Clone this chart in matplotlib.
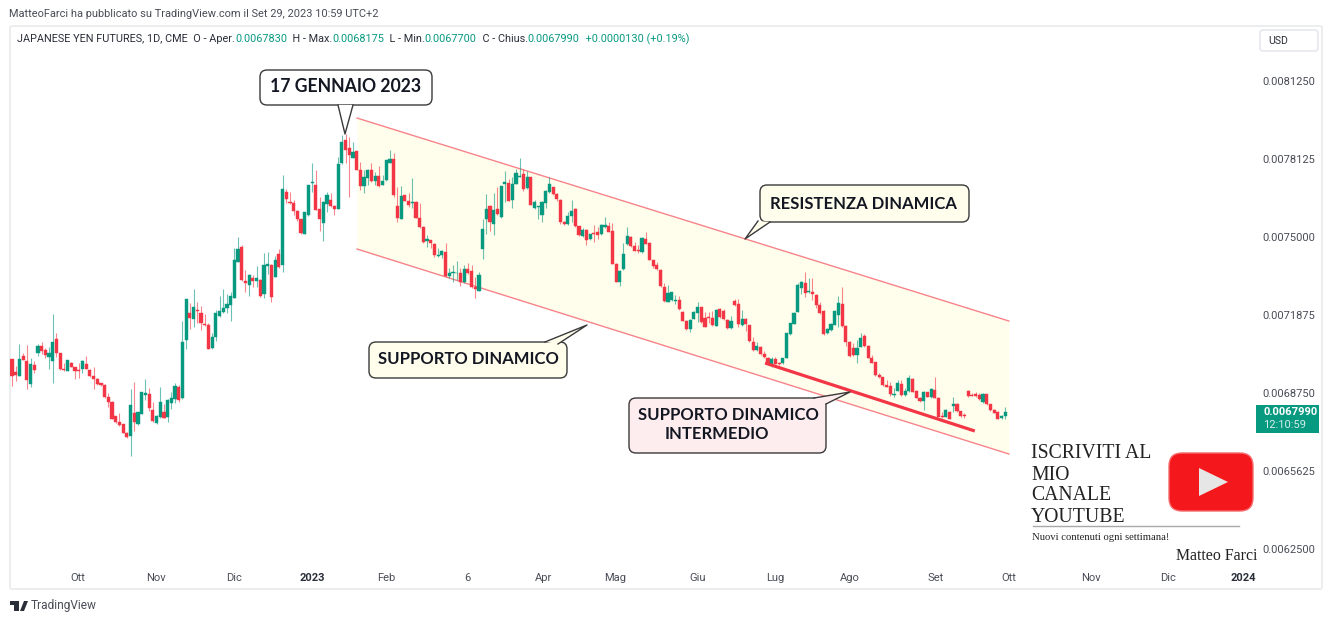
import numpy as np
import matplotlib
matplotlib.use("Agg")
import matplotlib.pyplot as plt
from matplotlib.patches import FancyBboxPatch, Polygon, Rectangle

# prices are in units of 0.0000001
PRICE_UNIT = 1e-7

opens = [
    70110,69605,69415,70230,70045,69125,69870,70350,70630,70485,
    70190,70045,70900,70340,69725,69645,69965,69780,69670,69710,
    69910,69670,69430,69295,69135,69070,68590,68400,67815,67575,
    67495,67160,67025,67960,67495,67920,68670,68725,68055,67550,
    67790,67990,67790,68360,68525,68975,68550,70875,71955,71715,
    72060,71940,71515,71460,70540,71005,71835,71980,72140,72290,
    72570,74010,74610,73250,73090,73370,73250,73290,72730,73850,
    73875,73410,74320,73875,76790,76400,76375,76040,75705,75120,
    75880,77150,77080,76105,75575,76335,76495,76240,76120,
    77950,78885,78580,78175,78445,77685,77040,77350,77685,77240,77455,
    77095,77280,77975,78135,76240,75735,76670,76440,76375,76400,
    75775,75400,74840,74865,74720,74225,74265,74400,73435,73545,
    73545,73570,73195,73705,73635,72985,72850,74530,75705,76230,
    75535,76135,75800,77110,77150,76480,77135,77415,77525,76950,
    77390,76175,76200,75895,76360,76800,76990,76720,76480,75600,
    75520,75840,76135,75425,75040,75280,74905,75160,75215,75120,
    75385,75425,75225,73930,73210,73705,74720,75000,74640,74480,
    74385,74905,74760,74065,73875,73675,73010,
    72410,72475,
    72450,72475,72010,71635,71300,71725,71940,72180,71770,71795,
    71740,71445,72100,72050,71675,71340,72435,72300,71475,71715,71460,70805,
    70470,70605,70300,70150,69860,70125,69965,69940,70165,71115,
    71525,72010,72945,73170,72795,72810,72690,72275,72050,71140,
    71275,71485,71875,72315,71435,70805,70540,70285,70605,71035,
    70645,70165,69980,69455,69375,69070,69045,68685,68845,69110,
    68670,68815,69325,68830,68565,68415,68775,68575,68870,68565,
    67830,67800,67990,68230,68295,68015,67855,68830,68685,68725,
    68670,68375,68695,68295,68070,68000,67735,67830,
]
highs = [
    70110,69830,70725,70365,70670,70165,70030,70700,70790,70540,
    70605,71900,71165,70365,69940,70070,70005,69805,69940,70070,
    70230,69725,69805,69335,69165,69110,68735,68430,67840,67960,
    67520,67200,68895,69175,68000,68805,69310,68935,68400,67855,
    68990,68310,68495,68805,69165,69070,71635,72515,72370,72930,
    72380,72250,71900,71540,71140,72075,72635,72930,72715,72810,
    74545,74985,74690,73675,73515,73475,73835,73315,74345,74400,
    73905,74240,74505,77480,76910,76790,76480,76080,75735,76015,
    77095,77965,77685,76615,76425,76815,76750,76265,78215,
    79085,79125,78990,78820,78460,78005,77685,77710,77975,77615,77845,
    77485,78085,78485,78350,77015,77040,76695,76775,77350,76430,
    76375,75425,75080,74890,74745,74570,74480,74760,73745,73880,
    74050,73745,73880,73945,73880,73385,73595,75720,76710,76295,
    76775,77015,77055,77645,77335,77415,77725,78150,77710,77630,
    77415,76480,76240,76430,76870,77415,77015,76750,76510,75625,
    76015,76480,76160,75455,75345,75320,75135,75480,75400,75505,
    75815,75615,75545,73955,73665,74745,75385,75025,74810,74680,
    75010,75185,74785,74090,74010,73705,73145,
    73075,72810,
    72675,72635,72035,71660,71700,72050,72395,72210,72010,72010,
    72050,72130,72155,72100,71700,71835,72500,72500,72075,71740,71485,71005,
    70805,70630,70445,70180,70180,70180,69990,70165,71165,71565,
    71980,73145,73225,73610,73345,73345,72715,72410,72075,71340,
    71540,72075,72635,73010,71460,70835,70740,70875,71140,71115,
    70675,70270,70005,69540,69405,69270,69175,68935,69270,69270,
    68935,69470,69350,68855,68590,68845,68805,68935,69405,68590,
    68000,68120,68015,68605,68335,68040,67935,68855,68735,68805,
    68750,68765,68725,68320,68095,68030,67870,68175,
]
lows = [
    69030,69245,69415,70070,68895,69005,69535,70230,70310,70140,
    69725,69150,70205,69670,69645,69620,69780,69325,69335,69535,
    69700,69375,68925,69085,69030,68565,68200,67695,67550,67440,
    67135,66960,66240,67225,67470,67895,68470,68040,67575,67520,
    67760,67735,67600,68095,68360,68400,68525,70500,71315,71405,
    71565,71285,71435,70500,70510,70845,71805,71940,71940,71635,
    72540,73985,73250,72810,72650,72980,73010,72595,72570,73505,
    72395,73385,73770,73585,76345,76320,75865,75655,75130,75105,
    75855,76815,76065,75250,74850,76015,76185,75895,76105,
    77925,77950,76590,78150,77670,76880,76775,77080,77200,77070,77015,
    77070,77255,77950,76590,75615,75705,76430,76190,76160,75745,
    75345,74760,74600,74570,74185,74210,74160,73410,73345,73185,
    73275,73050,73170,73530,72955,72570,72835,74120,75120,75240,
    75095,75895,75775,76415,76430,76175,77110,77390,76855,76920,
    76270,76105,75705,75615,76160,76775,76695,76455,75520,75480,
    75495,75615,75415,75025,75010,74665,74880,74785,74920,75095,
    75360,75185,73905,73185,73050,73675,74690,74610,74425,74345,
    74360,74705,74065,73745,73675,73010,72395,
    72380,72450,
    72315,72075,71620,71285,71180,71700,71605,71565,71380,71540,
    71445,71420,71740,71675,71315,71315,72250,71405,71445,71245,70805,70430,
    70445,70270,70150,69910,69780,69900,69885,69910,70140,71085,
    71500,71980,72715,72580,72770,72475,72140,71915,71085,71115,
    71245,71460,71380,71405,70645,70205,70245,69965,70580,70605,
    70140,69940,69430,69350,69045,68975,68630,68575,68815,68645,
    68645,68790,68775,68535,68390,68070,68575,68535,68535,67775,
    67760,67775,67695,68000,68000,67800,67750,68605,68615,68605,
    68470,68350,68270,68040,67935,67695,67710,67700,
]
closes = [
    69415,69470,70110,70070,69270,69900,69670,70630,70445,70260,
    70340,70805,70340,69725,69685,70070,69805,69620,69630,70045,
    69725,69430,69295,69110,69070,68590,68400,67720,67575,67470,
    67160,66985,68285,67590,67990,68775,68765,68150,67630,67830,
    68400,67760,68470,68550,69030,68470,70805,72515,71765,72195,
    72035,71555,71460,70525,71005,71955,72020,72155,72315,72635,
    74075,74520,73290,73170,73490,73250,73345,72620,73875,73905,
    72595,74075,73810,76920,76510,76375,76055,75705,75160,75985,
    77080,77200,76095,75735,76400,76670,76240,76135,77935,
    78790,78485,78270,78405,77695,77030,77390,77685,77230,77430,77040,
    77240,78070,78135,76670,75775,76640,76455,76295,76400,75775,
    75400,74785,74920,74760,74265,74280,74425,73435,73545,73595,
    73570,73185,73705,73555,72985,72905,73465,75305,76105,75600,
    76080,75920,77030,77200,76455,77120,77550,77455,76935,77390,
    76295,76390,76240,76400,76840,77135,76720,76510,75600,75505,
    75840,76025,75440,75080,75280,74890,75105,75120,75095,75480,
    75480,75215,73930,73210,73635,74320,75040,74640,74450,74440,
    74970,74730,74090,73850,73705,73035,72420,
    72745,72795,
    72475,72100,71645,71315,71675,71995,72180,71595,71405,71740,
    71475,72075,71780,71700,71340,71645,72275,71515,71715,71515,70835,70460,
    70630,70300,70180,69940,70125,69925,69910,70140,71140,71540,
    71955,73075,73195,72740,72835,72715,72275,71940,71115,71315,
    71515,72050,72340,71435,70805,70230,70270,70540,70965,70635,
    70165,69965,69455,69375,69070,69005,68695,68710,69135,68670,
    68845,69335,68805,68565,68445,68775,68605,68910,68565,67800,
    67790,68070,67710,68310,68030,67840,67830,68645,68645,68630,
    68495,68710,68295,68070,67960,67720,67815,67990,
]

price_ticks = [0.0081250, 0.0078125, 0.0075000, 0.0071875, 0.0068750, 0.0065625, 0.0062500]

# bar index of each month label
time_pos = [17.8, 38.9, 59.9, 81.0, 100.9, 122.8, 143.3, 162.7, 185.1, 205.9, 226.2, 249.1, 269.0, 291.2, 312.0, 332.3]
time_labels = ["Ott", "Nov", "Dic", "2023", "Feb", "6", "Apr", "Mag", "Giu", "Lug", "Ago", "Set", "Ott", "Nov", "Dic", "2024"]
bold_labels = ["2023", "2024"]

# channel drawing (bar index, price)
channel_x = [93.1, 269.0]
channel_upper = [0.0079766, 0.0071634]
channel_lower = [0.0074518, 0.0066306]
inner_x = [203.2, 259.8]
inner_y = [0.0069951, 0.0067227]

GREEN = "#089981"
RED = "#f23645"
W, H = 1332, 622

plt.rcParams["font.family"] = ["Roboto", "DejaVu Sans"]
fig = plt.figure(figsize=(W / 100, H / 100), dpi=100, facecolor="white")

# overlay in pixel space, for frame and labels
bg = fig.add_axes([0, 0, 1, 1], zorder=0)
bg.set_xlim(0, W)
bg.set_ylim(H, 0)
bg.axis("off")
bg.add_patch(FancyBboxPatch((10, 26), 1312, 563, boxstyle="round,pad=0,rounding_size=2",
                            fc="white", ec="#e9eaec", lw=1.2))

# main price pane: px 10-1256 across, 26-566 down
ax = fig.add_axes([10 / W, 1 - 566 / H, 1246 / W, 540 / H], zorder=1)
ax.patch.set_alpha(0)
STEP = 3.706
ax.set_xlim((10 - 12) / STEP, (1256 - 12) / STEP)
ax.set_ylim(0.00625 - 17 / 249600, 0.00625 + 523 / 249600)
for s in ax.spines.values():
    s.set_visible(False)

o = np.array(opens) * PRICE_UNIT
h = np.array(highs) * PRICE_UNIT
l = np.array(lows) * PRICE_UNIT
c = np.array(closes) * PRICE_UNIT
idx = np.arange(len(o))
colors = [GREEN if cc >= oo else RED for oo, cc in zip(o, c)]

# channel
ax.fill_between(channel_x, channel_lower, channel_upper, color="#fffdec", lw=0, zorder=1)
ax.plot(channel_x, channel_upper, color="#f7848a", lw=1.0, zorder=2)
ax.plot(channel_x, channel_lower, color="#f7848a", lw=1.0, zorder=2)

# candles
ax.vlines(idx, l, h, colors=colors, lw=0.8, alpha=0.6, zorder=3)
ax.bar(idx, np.abs(c - o), bottom=np.minimum(o, c), width=0.85, color=colors,
       edgecolor=colors, lw=0.3, zorder=4)

ax.plot(inner_x, inner_y, color="#f23645", lw=2.3, solid_capstyle="butt", zorder=5)

ax.yaxis.tick_right()
ax.set_yticks(price_ticks)
ax.set_yticklabels([f"{p:.7f}" for p in price_ticks], color="#4a4d57", fontsize=8.0)
ax.set_xticks(time_pos)
ax.set_xticklabels(time_labels, fontsize=8.0, color="#4a4d57")
for t in ax.get_xticklabels():
    if t.get_text() in bold_labels:
        t.set_fontweight("bold")
        t.set_color("#2a2e39")
ax.tick_params(axis="both", length=0)
ax.tick_params(axis="y", pad=4.5)
ax.tick_params(axis="x", pad=5)

# overlay on top
top = fig.add_axes([0, 0, 1, 1], zorder=2)
top.set_xlim(0, W)
top.set_ylim(H, 0)
top.axis("off")
top.patch.set_alpha(0)


def callout(x0, y0, x1, y1, tail, fc, lines, fs=12.0):
    top.add_patch(FancyBboxPatch((x0, y0), x1 - x0, y1 - y0, boxstyle="round,pad=0,rounding_size=7",
                                 fc=fc, ec="#3a3a3a", lw=1.0, zorder=5))
    top.add_patch(Polygon(tail, closed=True, fc=fc, ec="none", zorder=6))
    top.plot([tail[0][0], tail[1][0], tail[2][0]], [tail[0][1], tail[1][1], tail[2][1]],
             color="#3a3a3a", lw=1.0, zorder=7)
    for tx, ty, s in lines:
        top.text(tx, ty, s, fontsize=fs, family="Lato", fontweight="bold", color="#131722",
                 ha="left", va="center", zorder=8)


callout(260, 70, 432, 105, [(338, 105), (345, 134), (353, 105)], "white", [(270, 87, "17 GENNAIO 2023")], fs=12.7)
callout(760, 185, 969, 222, [(758, 221), (745, 239), (770, 222)], "#fffdec", [(770, 204, "RESISTENZA DINAMICA")])
callout(369, 342, 567, 378, [(545, 342), (587, 325), (558, 344)], "#fffdec", [(378, 359, "SUPPORTO DINAMICO")])
callout(629, 398, 826, 453, [(814, 398), (850, 392), (826, 404)], "#feedef",
        [(638, 415, "SUPPORTO DINAMICO"), (665, 434, "INTERMEDIO")])

# header
top.text(9, 14, "MatteoFarci ha pubblicato su TradingView.com il Set 29, 2023 10:59 UTC+2",
         fontsize=7.95, color="#4a4d57", va="center")
x = 17
for s, col in [("JAPANESE YEN FUTURES, 1D, CME  O - Aper.", "#2a2e39"), ("0.0067830", GREEN),
               ("  H - Max.", "#2a2e39"), ("0.0068175", GREEN), ("  L - Min.", "#2a2e39"),
               ("0.0067700", GREEN), ("  C - Chius.", "#2a2e39"), ("0.0067990", GREEN),
               ("  +0.0000130 (+0.19%)", GREEN)]:
    t = top.text(x, 39, s, fontsize=7.85, color=col, va="center")
    x = t.get_window_extent(fig.canvas.get_renderer()).x1

# USD button and last price tag
top.add_patch(FancyBboxPatch((1260, 30), 58, 21, boxstyle="round,pad=0,rounding_size=3",
                             fc="white", ec="#e0e3eb", lw=1.0))
top.text(1278, 40.5, "USD", fontsize=7.6, color="#2a2e39", ha="center", va="center")
top.add_patch(Rectangle((1256, 405), 63, 28, fc=GREEN, ec="none"))
top.text(1263, 412, "0.0067990", fontsize=8.0, fontweight="bold", color="white", va="center")
top.text(1263, 425, "12:10:59", fontsize=8.0, color="#d5efea", va="center")

# youtube block
for i, s in enumerate(["ISCRIVITI AL", "MIO", "CANALE", "YOUTUBE"]):
    top.text(1031, 454 + 21 * i, s, fontsize=14.2, family="Liberation Serif", color="#222222", va="center")
top.plot([1033, 1239], [526, 526], color="#a8a8a8", lw=1.0)
top.text(1032, 537, "Nuovi contenuti ogni settimana!", fontsize=7.7, family="Liberation Serif",
         color="#222222", va="center")
top.text(1176, 556.5, "Matteo Farci", fontsize=11.4, family="Liberation Serif", color="#222222", va="center")
top.add_patch(Rectangle((1257, 548), 4, 16, fc="white", ec="none", zorder=4))
top.add_patch(FancyBboxPatch((1169, 453), 84, 58, boxstyle="round,pad=0,rounding_size=13",
                             fc="#f4181c", ec="#f56a6c", lw=1.0))
top.add_patch(Polygon([(1199, 468), (1199, 496), (1228, 482)], closed=True, fc="#e6e6e6", ec="none"))

# bottom logo
top.add_patch(Polygon([(10, 601), (19, 601), (19, 611), (14, 611), (14, 605), (10, 605)],
                      closed=True, fc="#2a2e39", ec="none"))
top.add_patch(Polygon([(20, 611), (24, 601), (28, 601), (24, 611)], closed=True, fc="#2a2e39", ec="none"))
top.text(31, 606, "TradingView", fontsize=8.6, color="#4a4d57", va="center")

fig.savefig("out.png", dpi=100, facecolor="white")
